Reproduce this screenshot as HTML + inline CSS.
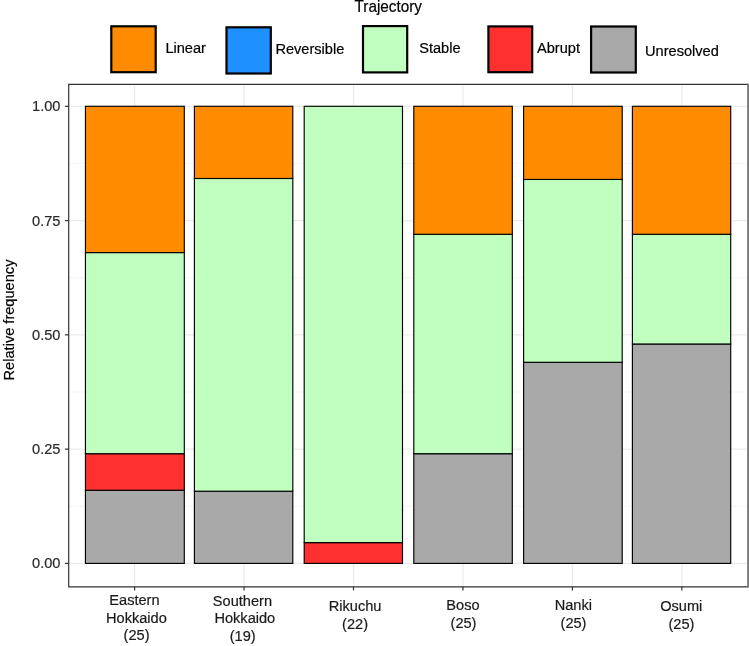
<!DOCTYPE html>
<html><head><meta charset="utf-8"><style>
html,body{margin:0;padding:0;background:#fff;}
body{width:749px;height:646px;position:relative;overflow:hidden;font-family:"Liberation Sans",sans-serif;}
svg text{font-family:"Liberation Sans",sans-serif;}
</style></head><body>
<svg width="749" height="646" viewBox="0 0 749 646" style="position:absolute;left:0;top:0;filter:blur(0.4px);">
<rect x="0" y="0" width="749" height="646" fill="#fff"/>
<line x1="68.7" x2="747.3" y1="506.26" y2="506.26" stroke="#F2F2F2" stroke-width="0.8"/>
<line x1="68.7" x2="747.3" y1="391.99" y2="391.99" stroke="#F2F2F2" stroke-width="0.8"/>
<line x1="68.7" x2="747.3" y1="277.71" y2="277.71" stroke="#F2F2F2" stroke-width="0.8"/>
<line x1="68.7" x2="747.3" y1="163.44" y2="163.44" stroke="#F2F2F2" stroke-width="0.8"/>
<line x1="68.7" x2="747.3" y1="563.40" y2="563.40" stroke="#EBEBEB" stroke-width="1.2"/>
<line x1="68.7" x2="747.3" y1="449.12" y2="449.12" stroke="#EBEBEB" stroke-width="1.2"/>
<line x1="68.7" x2="747.3" y1="334.85" y2="334.85" stroke="#EBEBEB" stroke-width="1.2"/>
<line x1="68.7" x2="747.3" y1="220.57" y2="220.57" stroke="#EBEBEB" stroke-width="1.2"/>
<line x1="68.7" x2="747.3" y1="106.30" y2="106.30" stroke="#EBEBEB" stroke-width="1.2"/>
<line x1="134.60" x2="134.60" y1="84.4" y2="586.8" stroke="#EBEBEB" stroke-width="1.2"/>
<line x1="244.05" x2="244.05" y1="84.4" y2="586.8" stroke="#EBEBEB" stroke-width="1.2"/>
<line x1="353.50" x2="353.50" y1="84.4" y2="586.8" stroke="#EBEBEB" stroke-width="1.2"/>
<line x1="462.95" x2="462.95" y1="84.4" y2="586.8" stroke="#EBEBEB" stroke-width="1.2"/>
<line x1="572.40" x2="572.40" y1="84.4" y2="586.8" stroke="#EBEBEB" stroke-width="1.2"/>
<line x1="681.85" x2="681.85" y1="84.4" y2="586.8" stroke="#EBEBEB" stroke-width="1.2"/>
<rect x="85.45" y="490.26" width="98.85" height="73.14" fill="#A9A9A9" stroke="#000" stroke-width="1.15"/>
<rect x="85.45" y="453.70" width="98.85" height="36.57" fill="#FF3030" stroke="#000" stroke-width="1.15"/>
<rect x="85.45" y="252.57" width="98.85" height="201.12" fill="#C1FFC1" stroke="#000" stroke-width="1.15"/>
<rect x="85.45" y="106.30" width="98.85" height="146.27" fill="#FF8C00" stroke="#000" stroke-width="1.15"/>
<rect x="194.40" y="491.23" width="98.40" height="72.17" fill="#A9A9A9" stroke="#000" stroke-width="1.15"/>
<rect x="194.40" y="178.47" width="98.40" height="312.75" fill="#C1FFC1" stroke="#000" stroke-width="1.15"/>
<rect x="194.40" y="106.30" width="98.40" height="72.17" fill="#FF8C00" stroke="#000" stroke-width="1.15"/>
<rect x="304.20" y="542.62" width="98.30" height="20.78" fill="#FF3030" stroke="#000" stroke-width="1.15"/>
<rect x="304.20" y="106.30" width="98.30" height="436.32" fill="#C1FFC1" stroke="#000" stroke-width="1.15"/>
<rect x="413.80" y="453.70" width="98.50" height="109.70" fill="#A9A9A9" stroke="#000" stroke-width="1.15"/>
<rect x="413.80" y="234.29" width="98.50" height="219.41" fill="#C1FFC1" stroke="#000" stroke-width="1.15"/>
<rect x="413.80" y="106.30" width="98.50" height="127.99" fill="#FF8C00" stroke="#000" stroke-width="1.15"/>
<rect x="523.60" y="362.28" width="98.60" height="201.12" fill="#A9A9A9" stroke="#000" stroke-width="1.15"/>
<rect x="523.60" y="179.44" width="98.60" height="182.84" fill="#C1FFC1" stroke="#000" stroke-width="1.15"/>
<rect x="523.60" y="106.30" width="98.60" height="73.14" fill="#FF8C00" stroke="#000" stroke-width="1.15"/>
<rect x="632.40" y="343.99" width="98.30" height="219.41" fill="#A9A9A9" stroke="#000" stroke-width="1.15"/>
<rect x="632.40" y="234.29" width="98.30" height="109.70" fill="#C1FFC1" stroke="#000" stroke-width="1.15"/>
<rect x="632.40" y="106.30" width="98.30" height="127.99" fill="#FF8C00" stroke="#000" stroke-width="1.15"/>
<path d="M748.2 84.4 H68.7 V586.8 H748.2" fill="none" stroke="#333" stroke-width="1.2"/>
<line x1="748.1" x2="748.1" y1="83.80000000000001" y2="587.4" stroke="#777" stroke-width="1.9"/>
<line x1="64.9" x2="68.7" y1="563.40" y2="563.40" stroke="#333" stroke-width="1.2"/>
<text transform="translate(60.50,568.40) scale(1,1.03)" text-anchor="end" font-size="14.6" fill="#2a2a2a" stroke="#2a2a2a" stroke-width="0.2">0.00</text>
<line x1="64.9" x2="68.7" y1="449.12" y2="449.12" stroke="#333" stroke-width="1.2"/>
<text transform="translate(60.50,454.12) scale(1,1.03)" text-anchor="end" font-size="14.6" fill="#2a2a2a" stroke="#2a2a2a" stroke-width="0.2">0.25</text>
<line x1="64.9" x2="68.7" y1="334.85" y2="334.85" stroke="#333" stroke-width="1.2"/>
<text transform="translate(60.50,339.85) scale(1,1.03)" text-anchor="end" font-size="14.6" fill="#2a2a2a" stroke="#2a2a2a" stroke-width="0.2">0.50</text>
<line x1="64.9" x2="68.7" y1="220.57" y2="220.57" stroke="#333" stroke-width="1.2"/>
<text transform="translate(60.50,225.57) scale(1,1.03)" text-anchor="end" font-size="14.6" fill="#2a2a2a" stroke="#2a2a2a" stroke-width="0.2">0.75</text>
<line x1="64.9" x2="68.7" y1="106.30" y2="106.30" stroke="#333" stroke-width="1.2"/>
<text transform="translate(60.50,111.30) scale(1,1.03)" text-anchor="end" font-size="14.6" fill="#2a2a2a" stroke="#2a2a2a" stroke-width="0.2">1.00</text>
<line x1="134.60" x2="134.60" y1="586.8" y2="590.4" stroke="#333" stroke-width="1.2"/>
<line x1="244.05" x2="244.05" y1="586.8" y2="590.4" stroke="#333" stroke-width="1.2"/>
<line x1="353.50" x2="353.50" y1="586.8" y2="590.4" stroke="#333" stroke-width="1.2"/>
<line x1="462.95" x2="462.95" y1="586.8" y2="590.4" stroke="#333" stroke-width="1.2"/>
<line x1="572.40" x2="572.40" y1="586.8" y2="590.4" stroke="#333" stroke-width="1.2"/>
<line x1="681.85" x2="681.85" y1="586.8" y2="590.4" stroke="#333" stroke-width="1.2"/>
<text transform="translate(134.45,605.00) scale(1,1.03)" text-anchor="middle" font-size="14.6" fill="#1a1a1a" stroke="#1a1a1a" stroke-width="0.2">Eastern</text>
<text transform="translate(136.40,622.80) scale(1,1.03)" text-anchor="middle" font-size="14.6" fill="#1a1a1a" stroke="#1a1a1a" stroke-width="0.2">Hokkaido</text>
<text transform="translate(136.60,640.20) scale(1,1.03)" text-anchor="middle" font-size="14.6" fill="#1a1a1a" stroke="#1a1a1a" stroke-width="0.2">(25)</text>
<text transform="translate(242.40,605.50) scale(1,1.03)" text-anchor="middle" font-size="14.6" fill="#1a1a1a" stroke="#1a1a1a" stroke-width="0.2">Southern</text>
<text transform="translate(244.80,623.10) scale(1,1.03)" text-anchor="middle" font-size="14.6" fill="#1a1a1a" stroke="#1a1a1a" stroke-width="0.2">Hokkaido</text>
<text transform="translate(242.65,641.10) scale(1,1.03)" text-anchor="middle" font-size="14.6" fill="#1a1a1a" stroke="#1a1a1a" stroke-width="0.2">(19)</text>
<text transform="translate(355.05,610.70) scale(1,1.03)" text-anchor="middle" font-size="14.6" fill="#1a1a1a" stroke="#1a1a1a" stroke-width="0.2">Rikuchu</text>
<text transform="translate(355.05,628.60) scale(1,1.03)" text-anchor="middle" font-size="14.6" fill="#1a1a1a" stroke="#1a1a1a" stroke-width="0.2">(22)</text>
<text transform="translate(462.95,610.00) scale(1,1.03)" text-anchor="middle" font-size="14.6" fill="#1a1a1a" stroke="#1a1a1a" stroke-width="0.2">Boso</text>
<text transform="translate(463.50,627.70) scale(1,1.03)" text-anchor="middle" font-size="14.6" fill="#1a1a1a" stroke="#1a1a1a" stroke-width="0.2">(25)</text>
<text transform="translate(573.30,610.00) scale(1,1.03)" text-anchor="middle" font-size="14.6" fill="#1a1a1a" stroke="#1a1a1a" stroke-width="0.2">Nanki</text>
<text transform="translate(573.50,627.70) scale(1,1.03)" text-anchor="middle" font-size="14.6" fill="#1a1a1a" stroke="#1a1a1a" stroke-width="0.2">(25)</text>
<text transform="translate(681.20,610.70) scale(1,1.03)" text-anchor="middle" font-size="14.6" fill="#1a1a1a" stroke="#1a1a1a" stroke-width="0.2">Osumi</text>
<text transform="translate(681.45,628.50) scale(1,1.03)" text-anchor="middle" font-size="14.6" fill="#1a1a1a" stroke="#1a1a1a" stroke-width="0.2">(25)</text>
<text transform="translate(14.30,320.00) rotate(-90) scale(1,1.03)" text-anchor="middle" font-size="14.6" fill="#000" stroke="#000" stroke-width="0.2">Relative frequency</text>
<text transform="translate(388.30,11.50) scale(1,1.03)" text-anchor="middle" font-size="15.3" fill="#000" stroke="#000" stroke-width="0.2">Trajectory</text>
<rect x="111.30" y="26.30" width="44.40" height="45.90" fill="#FF8C00" stroke="#000" stroke-width="2.2"/>
<text transform="translate(165.40,53.10) scale(1,1.03)" font-size="14.6" fill="#000" stroke="#000" stroke-width="0.2">Linear</text>
<rect x="226.50" y="27.30" width="44.30" height="46.20" fill="#1E90FF" stroke="#000" stroke-width="2.2"/>
<text transform="translate(275.40,53.70) scale(1,1.03)" font-size="14.6" fill="#000" stroke="#000" stroke-width="0.2">Reversible</text>
<rect x="363.00" y="26.10" width="44.20" height="46.30" fill="#C1FFC1" stroke="#000" stroke-width="2.2"/>
<text transform="translate(419.20,52.60) scale(1,1.03)" font-size="14.6" fill="#000" stroke="#000" stroke-width="0.2">Stable</text>
<rect x="488.40" y="26.40" width="43.80" height="45.80" fill="#FF3030" stroke="#000" stroke-width="2.2"/>
<text transform="translate(537.00,52.80) scale(1,1.03)" font-size="14.6" fill="#000" stroke="#000" stroke-width="0.2">Abrupt</text>
<rect x="591.10" y="26.50" width="44.70" height="46.00" fill="#A9A9A9" stroke="#000" stroke-width="2.2"/>
<text transform="translate(645.00,55.60) scale(1,1.03)" font-size="14.6" fill="#000" stroke="#000" stroke-width="0.2">Unresolved</text>
</svg>
</body></html>
